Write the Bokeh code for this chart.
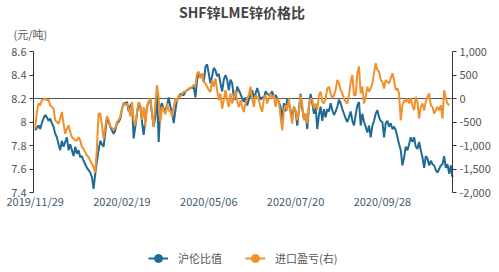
from bokeh.plotting import figure
from bokeh.models import (Range1d, LinearAxis, FixedTicker, Legend, LegendItem,
                          ColumnDataSource, Label)
from bokeh.embed import file_html
from bokeh.resources import INLINE

# ---- data (trading-day index based) ----
tick_index = [0, 52, 104, 156, 208]
tick_labels = ["2019/11/29", "2020/02/19", "2020/05/06", "2020/07/20", "2020/09/28"]

ratio = [
    7.93, 7.95, 7.97, 7.94, 7.99, 8.03, 8.06, 8.04, 8.01, 8.03, 7.99, 7.96, 7.90, 7.87, 7.81, 7.76,
    7.84, 7.79, 7.83, 7.87, 7.76, 7.81, 7.76, 7.71, 7.79, 7.73, 7.76, 7.70, 7.71, 7.67, 7.64, 7.61,
    7.59, 7.57, 7.53, 7.43, 7.56, 7.67, 7.76,
    7.84, 7.81, 7.79, 7.91, 8.03, 8.00, 7.96, 7.93, 7.90, 7.93, 7.99, 8.00, 8.03, 8.11, 8.16, 8.16,
    8.17, 8.09, 8.14, 8.16, 7.86, 7.96, 8.07, 8.16, 8.13, 8.00, 7.89, 8.01, 8.13, 8.17, 8.19, 8.07,
    7.96, 8.04, 8.24, 7.83, 8.13, 8.16, 8.10, 8.11, 8.14, 8.21,
    8.13, 8.09, 7.99, 8.10, 8.19, 8.21, 8.24, 8.23, 8.23, 8.26, 8.27, 8.28, 8.29, 8.29, 8.30, 8.21,
    8.36, 8.41, 8.40, 8.39, 8.34, 8.47, 8.49, 8.41, 8.33, 8.39, 8.46, 8.44, 8.39, 8.41, 8.33, 8.26,
    8.36, 8.40, 8.36, 8.27, 8.36, 8.33, 8.21, 8.19, 8.30, 8.27,
    8.24, 8.20, 8.17, 8.21, 8.14, 8.19, 8.23, 8.27, 8.21, 8.24, 8.29, 8.24, 8.19, 8.21, 8.20, 8.26,
    8.24, 8.23, 8.24, 8.26, 8.21, 8.23, 8.20, 8.17, 8.13, 8.01, 8.16, 8.09, 8.20, 8.16, 8.10, 8.03,
    8.13, 8.09, 7.97, 8.10, 8.24, 8.11, 8.03, 8.07, 7.94, 8.13,
    8.24, 8.16, 8.07, 8.13, 7.94, 8.06, 8.13, 8.01, 8.11, 8.04, 8.11, 8.09, 8.16, 8.10, 8.06, 8.09,
    8.13, 8.19, 8.16, 8.11, 8.07, 8.03, 8.00, 8.04, 8.09, 8.01, 7.97, 8.06, 8.14, 8.17, 7.97, 8.07,
    8.00, 7.96, 7.91, 7.97, 7.87, 7.97, 8.01, 8.07, 8.10, 8.04,
    8.01, 8.00, 7.87, 7.99, 8.01, 7.96, 7.99, 7.94, 7.96, 7.93, 7.87, 7.81, 7.76, 7.63, 7.70, 7.79,
    7.76, 7.81, 7.87, 7.83, 7.87, 7.79, 7.77, 7.83, 7.76, 7.70, 7.61, 7.71, 7.69, 7.63, 7.67, 7.64,
    7.63, 7.59, 7.57, 7.60, 7.63, 7.64, 7.71, 7.61, 7.64, 7.56, 7.63, 7.53,
]

import_pl = [
    -643, -286, -107, -143, -36, -21, 0, -36, -21, -143, -179, -214, -464, -500, -536, -429,
    -286, -536, -750, -643, -571, -714, -821, -857, -893, -893, -821, -893, -1036, -1071, -1143, -1214,
    -1250, -1321, -1393, -1464, -1571, -1036, -321,
    -321, -571, -857, -607, -379, -450, -593, -629, -664, -621, -500, -464, -379, -214, -107, -143,
    -107, -214, -379, -71, -464, -571, -286, -71, -143, -450, -179, -593, -143, -71, 0, -321,
    -593, -107, 286, 0, -500, -179, -250, -336, -107, -264,
    -250, -393, -179, 0, -71, 71, 36, 107, 143, 143, 179, 193, 214, 250, 286, 286,
    536, 571, 429, 536, 357, 321, 250, 179, 143, 393, 250, 429, 179, -36, 107, -214,
    -36, 179, -36, -179, 107, -107, 0, 179, -71, -179,
    -36, -179, -286, -107, 0, 71, 250, 0, -179, 71, 36, -36, -179, -286, 0, 71,
    -107, 0, 107, 0, 71, -179, 0, -71, -393, -679, -250, -143, -250, 0, -321, -536,
    -179, -250, -464, -286, 71, -143, -464, -321, -536, -143,
    0, -36, -214, -107, -250, 71, 143, -71, -107, 0, 214, 250, 107, 0, 71, 179,
    393, 321, 179, 107, 0, -71, -107, 71, 357, 500, 71, 71, 536, 679, 107, 250,
    -107, 36, 250, 143, 214, 321, 536, 750, 607, 571,
    393, 357, 214, 393, 357, 321, 429, 536, 393, 179, 214, 107, -464, -143, -36, -71,
    0, -107, 0, -143, -250, 36, -71, -429, -179, -107, -250, -71, 36, 107, -143, -179,
    -321, -250, -179, -250, -143, -429, 179, 0, -107, -143, float("nan"), float("nan"),
]

left_ticks = [7.4, 7.6, 7.8, 8.0, 8.2, 8.4, 8.6]
left_labels = ["7.4", "7.6", "7.8", "8", "8.2", "8.4", "8.6"]
right_ticks = [-2000, -1500, -1000, -500, 0, 500, 1000]
right_labels = ["-2,000", "-1,500", "-1,000", "-500", "0", "500", "1,000"]

BLUE = "#1f6b94"
ORANGE = "#f0912c"
FONT = "Noto Sans CJK SC"

# ---- layout: the plot area spans the whole canvas; axes are pinned inside it ----
W, H = 499, 272
PX_L, PX_R, PX_T, PX_B = 33, 452, 51, 192
x = list(range(len(ratio)))
x0, x1 = -1, len(ratio) - 1
ly0, ly1 = left_ticks[0], left_ticks[-1]
ry0, ry1 = right_ticks[0], right_ticks[-1]
sx = (PX_R - PX_L) / (x1 - x0)
sy = (PX_B - PX_T) / (ly1 - ly0)
k = (ry1 - ry0) / (ly1 - ly0)

p = figure(width=W, height=H, output_backend="svg", toolbar_location=None,
           x_range=Range1d(x0 - PX_L / sx, x1 + (W - PX_R) / sx),
           y_range=Range1d(ly0 - (H - PX_B) / sy, ly1 + PX_T / sy),
           min_border=0, min_border_left=0, min_border_right=0,
           min_border_top=0, min_border_bottom=0,
           outline_line_color=None, background_fill_color="white", border_fill_color="white")
p.extra_y_ranges = {"right": Range1d(ry0 - (H - PX_B) / sy * k, ry1 + PX_T / sy * k)}
p.grid.visible = False

xa = p.xaxis[0]
xa.fixed_location = ly0
xa.ticker = FixedTicker(ticks=tick_index)
xa.major_label_overrides = {t: l for t, l in zip(tick_index, tick_labels)}
xa.axis_line_color = None
xa.major_tick_line_color = None
xa.major_tick_in = 0
xa.major_tick_out = 0
xa.minor_tick_line_color = None
xa.major_label_text_font = FONT
xa.major_label_text_font_size = "11px"
xa.major_label_text_color = "#3f5a6a"
xa.major_label_standoff = 0

ya = p.yaxis[0]
ya.fixed_location = x0
ya.bounds = (ly0, ly1)
ya.ticker = FixedTicker(ticks=left_ticks)
ya.major_label_overrides = {t: l for t, l in zip(left_ticks, left_labels)}
ya.axis_line_color = "#333333"
ya.major_tick_line_color = "#333333"
ya.major_tick_in = 0
ya.major_tick_out = 4
ya.minor_tick_line_color = None
ya.major_label_text_font = FONT
ya.major_label_text_font_size = "11px"
ya.major_label_text_color = "#555555"
ya.major_label_standoff = 3

ra = LinearAxis(y_range_name="right", ticker=FixedTicker(ticks=right_ticks),
                fixed_location=x1, bounds=(ry0, ry1))
ra.major_label_overrides = {t: l for t, l in zip(right_ticks, right_labels)}
ra.axis_line_color = "#333333"
ra.major_tick_line_color = "#333333"
ra.major_tick_in = 0
ra.major_tick_out = 4
ra.minor_tick_line_color = None
ra.major_label_text_font = FONT
ra.major_label_text_font_size = "11px"
ra.major_label_text_color = "#555555"
ra.major_label_standoff = 3
p.add_layout(ra, "right")

# zero line of the right axis, between the two axes
p.line([x0, x1], [0, 0], y_range_name="right", line_color="#555555", line_width=1)

src = ColumnDataSource(dict(x=x, ratio=ratio, pl=import_pl))
l_ratio = p.line("x", "ratio", source=src, line_color=BLUE, line_width=2)
l_pl = p.line("x", "pl", source=src, line_color=ORANGE, line_width=2, y_range_name="right")

# hidden markers used only for the legend symbols
m_ratio = p.scatter("x", "ratio", source=src, size=9, fill_color=BLUE, line_color=BLUE,
                    visible=False)
m_pl = p.scatter("x", "pl", source=src, size=9, fill_color=ORANGE, line_color=ORANGE,
                 y_range_name="right", visible=False)

# title and unit (screen units, origin bottom-left of canvas)
p.add_layout(Label(x=241.5, y=H - 11, x_units="screen", y_units="screen",
                   text="SHF锌LME锌价格比", text_font=FONT, text_font_size="14px",
                   text_font_style="bold", text_color="#444444",
                   text_align="center", text_baseline="middle"))
p.add_layout(Label(x=13, y=H - 33, x_units="screen", y_units="screen",
                   text="(元/吨)", text_font=FONT, text_font_size="11px",
                   text_color="#555555", text_align="left", text_baseline="middle"))

legend = Legend(items=[LegendItem(label="沪伦比值", renderers=[l_ratio, m_ratio]),
                       LegendItem(label="进口盈亏(右)", renderers=[l_pl, m_pl])],
                orientation="horizontal", location=(148, 4), border_line_color=None,
                background_fill_alpha=0, label_text_font=FONT, label_text_font_size="11px",
                label_text_color="#555555", glyph_width=20, glyph_height=20,
                label_height=20, label_standoff=10, spacing=23, margin=0, padding=0,
                inactive_fill_alpha=0)
p.add_layout(legend)

open("out.html", "w").write(file_html(p, INLINE))
